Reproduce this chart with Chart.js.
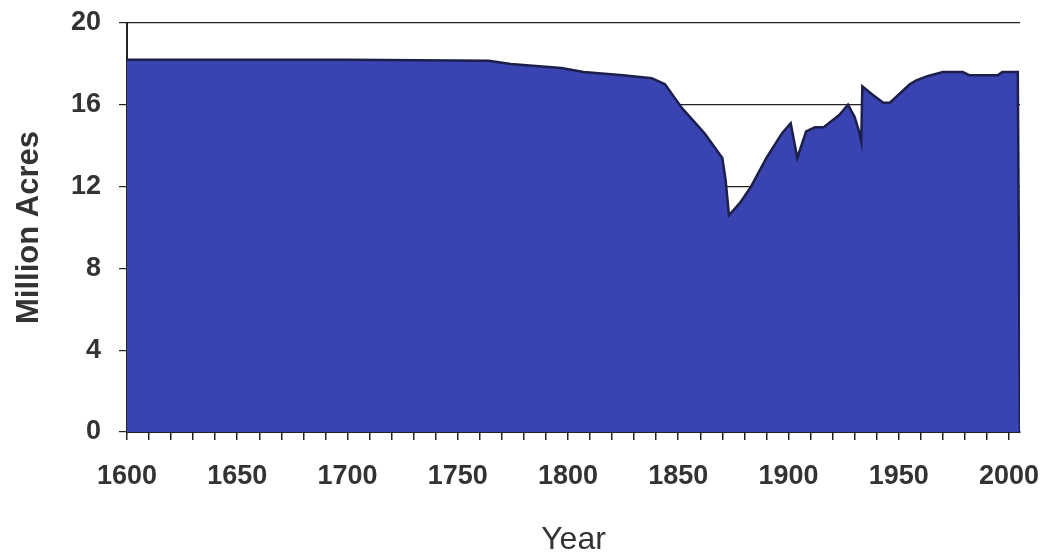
<!DOCTYPE html>
<html>
<head>
<meta charset="utf-8">
<script src="https://cdn.jsdelivr.net/npm/chart.js@4/dist/chart.umd.min.js"></script>
<style>
  html, body { margin: 0; padding: 0; background: #fff; }
  #wrap { width: 1045px; height: 560px; }
</style>
</head>
<body>
<div id="wrap"><canvas id="myChart" width="1045" height="560"></canvas></div>
<script>
const years = [1600, 1650, 1700, 1764, 1774, 1797, 1807, 1825, 1838, 1844, 1848, 1852, 1857, 1862, 1866, 1870,
  1871.5, 1873, 1878, 1883, 1890, 1897, 1901, 1904, 1908, 1912, 1916, 1920, 1923, 1927, 1930, 1932, 1933,
  1933.5, 1938, 1943, 1946, 1951, 1955, 1958, 1963, 1970, 1979, 1982, 1995, 1997, 2004, 2005];
const acres = [18.2, 18.2, 18.2, 18.15, 18.0, 17.8, 17.6, 17.45, 17.3, 17.0, 16.4, 15.8, 15.2, 14.6, 14.0, 13.4,
  12.3, 10.6, 11.2, 12.0, 13.4, 14.6, 15.1, 13.4, 14.7, 14.9, 14.9, 15.25, 15.5, 16.0, 15.4, 14.7, 14.2,
  16.9, 16.5, 16.1, 16.1, 16.6, 17.0, 17.2, 17.4, 17.6, 17.6, 17.45, 17.45, 17.6, 17.6, 0];
const yTicks = [0, 4, 8, 12, 16, 20];

const points = years.map((y, i) => ({x: y, y: acres[i]}));
const txt = '#333';

const config = {
  type: 'line',
  data: {
    datasets: [{
      label: 'Million Acres',
      data: points,
      borderColor: '#1c1f4a',
      borderWidth: 2.5,
      backgroundColor: '#3a43b2',
      fill: 'origin',
      tension: 0,
      pointRadius: 0,
    }]
  },
  options: {
    responsive: false,
    animation: false,
    layout: { padding: { top: 23, right: 25, left: 0, bottom: 0 } },
    plugins: { legend: { display: false }, tooltip: { enabled: false } },
    scales: {
      x: {
        type: 'linear',
        min: 1600,
        max: 2005,
        afterFit: s => { s.height = 128; s.paddingLeft = 0; s.paddingRight = 0; },
        afterBuildTicks: s => { s.ticks = s.ticks.filter(t => t.value % 10 === 0); },
        ticks: {
          stepSize: 10,
          includeBounds: false,
          autoSkip: false,
          maxRotation: 0,
          padding: 20,
          color: txt,
          font: { family: 'Liberation Sans', size: 27, weight: 'bold' },
          callback: v => (v % 50 === 0 ? String(v) : ''),
        },
        grid: { drawOnChartArea: false, drawTicks: true, tickLength: 8, color: '#222', lineWidth: 1.5 },
        border: { color: '#222', width: 2 },
        title: {
          display: true,
          text: 'Year',
          color: txt,
          font: { family: 'Liberation Sans', size: 32, lineHeight: 1 },
          padding: { top: 0, bottom: 4 },
        },
      },
      y: {
        min: 0,
        max: 20,
        afterFit: s => { s.width = 127; s.paddingTop = 0; s.paddingBottom = 0; },
        afterBuildTicks: s => { s.ticks = yTicks.map(v => ({value: v})); },
        ticks: {
          stepSize: 4,
          padding: 18,
          color: txt,
          font: { family: 'Liberation Sans', size: 27, weight: 'bold' },
        },
        grid: { color: '#222', lineWidth: 1.2, tickLength: 8 },
        border: { color: '#222', width: 2 },
        title: {
          display: true,
          text: 'Million Acres',
          color: txt,
          font: { family: 'Liberation Sans', size: 31, weight: 'bold', lineHeight: 1 },
          padding: { top: 14, bottom: 0 },
        },
      },
    },
  },
};

const ctx = document.getElementById('myChart');
const myChart = new Chart(ctx, config);
</script>
</body>
</html>
